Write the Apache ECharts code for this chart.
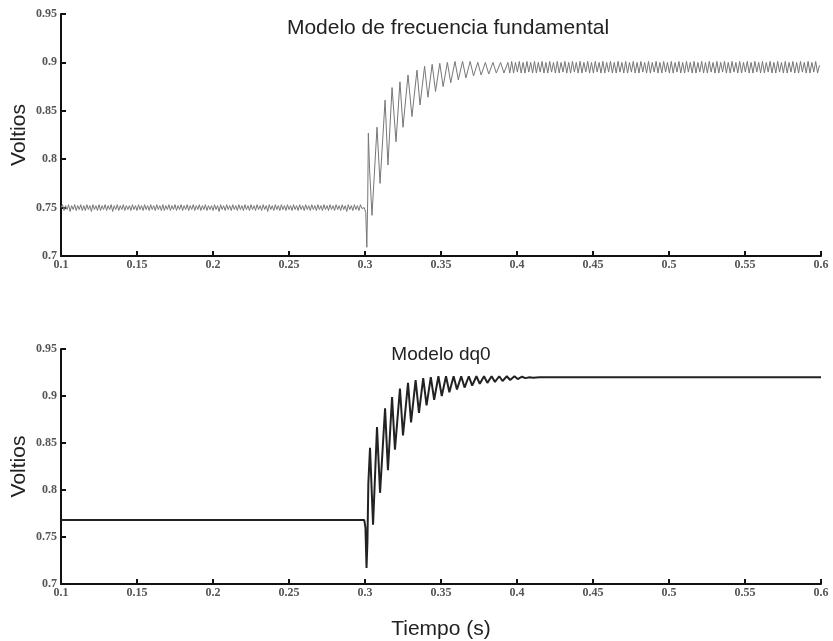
<!DOCTYPE html>
<html>
<head>
<meta charset="utf-8">
<script src="https://cdn.jsdelivr.net/npm/echarts@6/dist/echarts.min.js"></script>
<style>html,body{margin:0;padding:0;background:#fff}#c{width:833px;height:641px}</style>
</head>
<body>
<div id="c"></div>
<script>
// ---- Data ----
var xTicks = [0.1, 0.15, 0.2, 0.25, 0.3, 0.35, 0.4, 0.45, 0.5, 0.55, 0.6];
var yTicks = [0.7, 0.75, 0.8, 0.85, 0.9, 0.95];
var titleTop = "Modelo de frecuencia fundamental";
var titleBottom = "Modelo dq0";
var yName = "Voltios";
var xName = "Tiempo (s)";

// Top: fundamental-frequency model, pre-step ripple sampled every 0.001 s from 0.100 s
var topRippleStart = 0.100, topRippleStep = 0.001;
var topRipple = [
 0.750,0.753,0.747,0.752,0.748,0.753,0.746,0.752,0.748,0.753,
 0.747,0.752,0.748,0.753,0.747,0.752,0.747,0.753,0.748,0.752,
 0.746,0.753,0.748,0.752,0.747,0.753,0.747,0.752,0.748,0.753,
 0.747,0.752,0.748,0.753,0.746,0.752,0.748,0.753,0.747,0.752,
 0.748,0.753,0.747,0.752,0.748,0.752,0.747,0.753,0.748,0.752,
 0.747,0.753,0.748,0.752,0.747,0.753,0.748,0.752,0.747,0.753,
 0.748,0.752,0.747,0.753,0.748,0.752,0.747,0.753,0.747,0.752,
 0.748,0.753,0.747,0.752,0.748,0.753,0.747,0.752,0.748,0.753,
 0.747,0.752,0.748,0.753,0.747,0.752,0.748,0.753,0.747,0.752,
 0.748,0.753,0.747,0.752,0.748,0.753,0.747,0.752,0.748,0.752,
 0.747,0.753,0.748,0.752,0.746,0.753,0.748,0.752,0.747,0.753,
 0.748,0.752,0.747,0.753,0.748,0.752,0.747,0.753,0.748,0.752,
 0.747,0.753,0.748,0.752,0.747,0.753,0.748,0.752,0.747,0.753,
 0.748,0.752,0.747,0.753,0.748,0.752,0.746,0.753,0.748,0.752,
 0.747,0.753,0.748,0.752,0.747,0.753,0.748,0.752,0.747,0.753,
 0.748,0.752,0.747,0.753,0.748,0.752,0.747,0.753,0.748,0.752,
 0.747,0.753,0.748,0.752,0.747,0.753,0.748,0.752,0.747,0.753,
 0.748,0.752,0.747,0.753,0.748,0.752,0.747,0.753,0.748,0.752,
 0.747,0.753,0.748,0.752,0.747,0.753,0.748,0.752,0.746,0.753,
 0.748,0.752,0.747,0.753,0.748,0.752,0.747,0.753,0.749];
// Top: transient after the step
var topTransTime = [0.2995,0.3005,0.3012,0.3018,0.3022,0.3030,0.3046,0.3079,0.3099,0.3132,0.3151,0.3178,0.3204,0.3230,0.3250,0.3283,0.3309,0.3342,0.3362,0.3392,0.3414,0.3442,0.3464,0.3492,0.3514,0.3542,0.3564,0.3592,0.3614,0.3642,0.3664,0.3692,0.3714,0.3742,0.3764,0.3792,0.3814,0.3842,0.3864,0.3892,0.3914];
var topTransVolt = [0.750,0.745,0.709,0.760,0.827,0.790,0.742,0.833,0.775,0.861,0.794,0.874,0.818,0.880,0.833,0.887,0.844,0.892,0.856,0.896,0.864,0.898,0.870,0.899,0.875,0.900,0.879,0.901,0.882,0.901,0.884,0.901,0.886,0.900,0.887,0.900,0.888,0.900,0.889,0.900,0.889];
// Top: post-transient ripple sampled every 0.00125 s from 0.394 s
var topSteadyStart = 0.394, topSteadyStep = 0.00125;
var topSteady = [
 0.900,0.889,0.901,0.889,0.900,0.890,0.901,0.889,0.900,0.889,
 0.901,0.890,0.900,0.889,0.901,0.889,0.900,0.890,0.901,0.889,
 0.900,0.889,0.901,0.890,0.900,0.889,0.901,0.889,0.900,0.890,
 0.901,0.889,0.900,0.889,0.901,0.890,0.900,0.889,0.901,0.889,
 0.900,0.890,0.901,0.889,0.900,0.889,0.901,0.890,0.900,0.889,
 0.901,0.889,0.900,0.890,0.901,0.889,0.900,0.889,0.901,0.890,
 0.900,0.889,0.901,0.889,0.900,0.890,0.901,0.889,0.900,0.889,
 0.901,0.890,0.900,0.889,0.901,0.889,0.900,0.890,0.901,0.889,
 0.900,0.889,0.901,0.890,0.900,0.889,0.901,0.889,0.900,0.890,
 0.901,0.889,0.900,0.889,0.901,0.890,0.900,0.889,0.901,0.889,
 0.900,0.890,0.901,0.889,0.900,0.889,0.901,0.890,0.900,0.889,
 0.901,0.889,0.900,0.890,0.901,0.889,0.900,0.889,0.901,0.890,
 0.900,0.889,0.901,0.889,0.900,0.890,0.901,0.889,0.900,0.889,
 0.901,0.890,0.900,0.889,0.901,0.889,0.900,0.890,0.901,0.889,
 0.900,0.889,0.901,0.890,0.900,0.889,0.901,0.889,0.900,0.890,
 0.901,0.889,0.900,0.889,0.901,0.890,0.900,0.889,0.901,0.889,
 0.900,0.890,0.901,0.889,0.897];

// Bottom: dq0 model
var botTime = [0.100,0.2995,0.3003,0.3010,0.3016,0.3022,0.3028,0.3033,0.3053,0.3079,0.3099,0.3132,0.3151,0.3178,0.3197,0.3230,0.3250,0.3283,0.3303,0.3333,0.3355,0.3383,0.3405,0.3433,0.3455,0.3483,0.3505,0.3533,0.3555,0.3583,0.3605,0.3633,0.3655,0.3683,0.3705,0.3733,0.3755,0.3783,0.3805,0.3833,0.3855,0.3883,0.3905,0.3933,0.3955,0.3983,0.4005,0.4033,0.4055,0.4083,0.4105,0.4150,0.6000];
var botVolt = [0.768,0.768,0.760,0.717,0.745,0.807,0.805,0.845,0.763,0.867,0.797,0.887,0.821,0.899,0.843,0.908,0.858,0.914,0.872,0.917,0.882,0.919,0.890,0.920,0.896,0.921,0.900,0.921,0.904,0.921,0.907,0.921,0.909,0.921,0.911,0.921,0.913,0.921,0.914,0.921,0.915,0.921,0.916,0.921,0.917,0.921,0.918,0.9205,0.919,0.920,0.9195,0.920,0.920];

// ---- Build series data ----
var topData = [];
topRipple.forEach(function(v, i){ topData.push([+(topRippleStart + i*topRippleStep).toFixed(5), v]); });
topTransTime.forEach(function(t, i){ topData.push([t, topTransVolt[i]]); });
topSteady.forEach(function(v, i){ topData.push([+(topSteadyStart + i*topSteadyStep).toFixed(5), v]); });
var botData = botTime.map(function(t, i){ return [t, botVolt[i]]; });

var fmt = function(v){ return String(+(+v).toFixed(2)); };
var tickFont = {fontFamily: '"Liberation Serif","DejaVu Serif",serif', fontWeight: 'bold', fontSize: 12, color: '#555'};
var sansFont = '"Liberation Sans",Arial,sans-serif';

function xAxisCfg(gi, withName){
  var a = {
    type: 'value', gridIndex: gi, min: xTicks[0], max: xTicks[xTicks.length-1], interval: 0.05,
    axisLine: {show: true, onZero: false, lineStyle: {color: '#111', width: 2}},
    axisTick: {show: true, inside: true, length: 5, lineStyle: {color: '#111', width: 2}},
    axisLabel: Object.assign({formatter: fmt, margin: 3}, tickFont),
    splitLine: {show: false}
  };
  if (withName) {
    a.name = xName; a.nameLocation = 'middle'; a.nameGap = 35; a.nameMoveOverlap = false;
    a.nameTextStyle = {fontFamily: sansFont, fontSize: 21, color: '#222'};
  }
  return a;
}
function yAxisCfg(gi){
  return {
    type: 'value', gridIndex: gi, min: yTicks[0], max: yTicks[yTicks.length-1], interval: 0.05,
    name: yName, nameLocation: 'middle', nameGap: 31, nameMoveOverlap: false,
    nameTextStyle: {fontFamily: sansFont, fontSize: 21, color: '#222'},
    axisLine: {show: true, onZero: false, lineStyle: {color: '#111', width: 2}},
    axisTick: {show: true, inside: true, length: 5, lineStyle: {color: '#111', width: 2}},
    axisLabel: Object.assign({formatter: fmt, margin: 4}, tickFont),
    splitLine: {show: false}
  };
}

var chart = echarts.init(document.getElementById('c'), null, {renderer: 'canvas'});
chart.setOption({
  animation: false,
  backgroundColor: '#fff',
  title: [
    {text: titleTop, left: 443, top: 13, textAlign: 'center',
     textStyle: {fontFamily: sansFont, fontSize: 21, fontWeight: 'normal', color: '#222'}},
    {text: titleBottom, left: 436, top: 340, textAlign: 'center',
     textStyle: {fontFamily: sansFont, fontSize: 19, fontWeight: 'normal', color: '#222'}}
  ],
  grid: [
    {left: 61, right: 12, top: 14, height: 242, containLabel: false, outerBoundsMode: 'none'},
    {left: 61, right: 12, top: 349, height: 235, containLabel: false, outerBoundsMode: 'none'}
  ],
  xAxis: [xAxisCfg(0, false), xAxisCfg(1, true)],
  yAxis: [yAxisCfg(0), yAxisCfg(1)],
  series: [
    {type: 'line', xAxisIndex: 0, yAxisIndex: 0, data: topData, showSymbol: false, symbol: 'none',
     lineStyle: {color: '#777', width: 1}},
    {type: 'line', xAxisIndex: 1, yAxisIndex: 1, data: botData, showSymbol: false, symbol: 'none',
     lineStyle: {color: '#222', width: 2}}
  ]
});
</script>
</body>
</html>
